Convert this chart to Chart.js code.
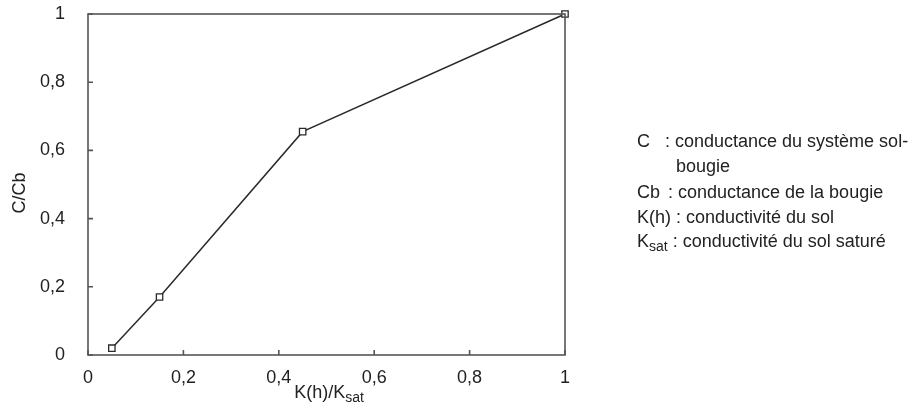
<!DOCTYPE html>
<html>
<head>
<meta charset="utf-8">
<script src="https://cdn.jsdelivr.net/npm/chart.js@4.4.1/dist/chart.umd.min.js"></script>
<style>
  html, body { margin: 0; padding: 0; background: #fff; }
  #wrap { width: 917px; height: 404px; }
</style>
</head>
<body>
<div id="wrap"><canvas id="chart" width="917" height="404"></canvas></div>
<script>
// values
const kRatio = [0.05, 0.15, 0.45, 1];     // K(h)/Ksat
const cRatio = [0.02, 0.17, 0.655, 1];    // C/Cb
const tickStep = 0.2;

// notes on the right: symbol, subscript, text
const noteSymbols = ['C', 'Cb', 'K(h)', 'K'];
const noteSubs = ['', '', '', 'sat'];
const noteTexts = [
  ': conductance du système sol-\nbougie',
  ': conductance de la bougie',
  ': conductivité du sol',
  ': conductivité du sol saturé'
];

const FONT = '"Liberation Sans", Arial, sans-serif';
const INK = '#222';
const AXIS = '#555';

const fmt = v => {
  if (Math.abs(v) < 1e-9) return '0';
  if (Math.abs(v - 1) < 1e-9) return '1';
  return v.toFixed(1).replace('.', ',');
};

// box around the plot, inward tick marks, axis titles and notes
const decor = {
  id: 'decor',
  afterDraw(chart) {
    const { ctx, chartArea: a, scales } = chart;
    ctx.save();
    ctx.strokeStyle = AXIS;
    ctx.lineWidth = 1.6;
    ctx.strokeRect(a.left, a.top, a.right - a.left, a.bottom - a.top);

    ctx.beginPath();
    scales.x.ticks.forEach(t => {
      const px = scales.x.getPixelForValue(t.value);
      ctx.moveTo(px, a.bottom);
      ctx.lineTo(px, a.bottom - 5);
    });
    scales.y.ticks.forEach(t => {
      const py = scales.y.getPixelForValue(t.value);
      ctx.moveTo(a.left, py);
      ctx.lineTo(a.left + 5, py);
    });
    ctx.stroke();

    ctx.fillStyle = INK;
    ctx.textBaseline = 'alphabetic';
    ctx.textAlign = 'left';

    // x title with subscript
    const main = 'K(h)/K';
    const sub = 'sat';
    ctx.font = '18px ' + FONT;
    const w1 = ctx.measureText(main).width;
    ctx.font = '14px ' + FONT;
    const w2 = ctx.measureText(sub).width;
    const x0 = 329 - (w1 + w2) / 2;
    ctx.font = '18px ' + FONT;
    ctx.fillText(main, x0, 398);
    ctx.font = '14px ' + FONT;
    ctx.fillText(sub, x0 + w1, 402);

    // y title
    ctx.save();
    ctx.translate(25, 193);
    ctx.rotate(-Math.PI / 2);
    ctx.font = '18px ' + FONT;
    ctx.textAlign = 'center';
    ctx.fillText('C/Cb', 0, 0);
    ctx.restore();

    // notes
    const colonX = [665, 668, 0, 0];
    const rowY = [147, 198, 223, 247];
    noteSymbols.forEach((s, i) => {
      const y = rowY[i];
      ctx.font = '18px ' + FONT;
      ctx.fillText(s, 637, y);
      let x = 637 + ctx.measureText(s).width;
      if (noteSubs[i]) {
        ctx.font = '14px ' + FONT;
        ctx.fillText(noteSubs[i], x, y + 4);
        x += ctx.measureText(noteSubs[i]).width;
        ctx.font = '18px ' + FONT;
      }
      x = colonX[i] || x + 5;
      const lines = noteTexts[i].split('\n');
      ctx.fillText(lines[0], x, y);
      if (lines[1]) ctx.fillText(lines[1], 676, y + 25);
    });
    ctx.restore();
  }
};

new Chart(document.getElementById('chart'), {
  type: 'scatter',
  data: {
    datasets: [{
      data: kRatio.map((k, i) => ({ x: k, y: cRatio[i] })),
      showLine: true,
      borderColor: '#2a2a2a',
      borderWidth: 1.5,
      pointStyle: 'rect',
      pointRadius: 4.5,
      pointBorderWidth: 1.3,
      pointBorderColor: '#2a2a2a',
      pointBackgroundColor: '#fff',
      clip: false
    }]
  },
  options: {
    responsive: false,
    animation: false,
    layout: { padding: { left: 0, right: 352, top: 14, bottom: 0 } },
    plugins: { legend: { display: false }, tooltip: { enabled: false } },
    scales: {
      x: {
        type: 'linear',
        min: 0,
        max: 1,
        grid: { display: false },
        border: { display: false },
        ticks: {
          stepSize: tickStep,
          padding: 4,
          color: INK,
          font: { family: FONT, size: 18 },
          maxRotation: 0,
          callback: v => fmt(v)
        },
        afterFit: s => { s.height = 49; s.paddingLeft = 0; s.paddingRight = 0; }
      },
      y: {
        type: 'linear',
        min: 0,
        max: 1,
        grid: { display: false },
        border: { display: false },
        ticks: {
          stepSize: tickStep,
          padding: 15,
          color: INK,
          font: { family: FONT, size: 18 },
          callback: v => fmt(v)
        },
        afterFit: s => { s.width = 88; s.paddingTop = 0; s.paddingBottom = 0; }
      }
    }
  },
  plugins: [decor]
});
</script>
</body>
</html>
